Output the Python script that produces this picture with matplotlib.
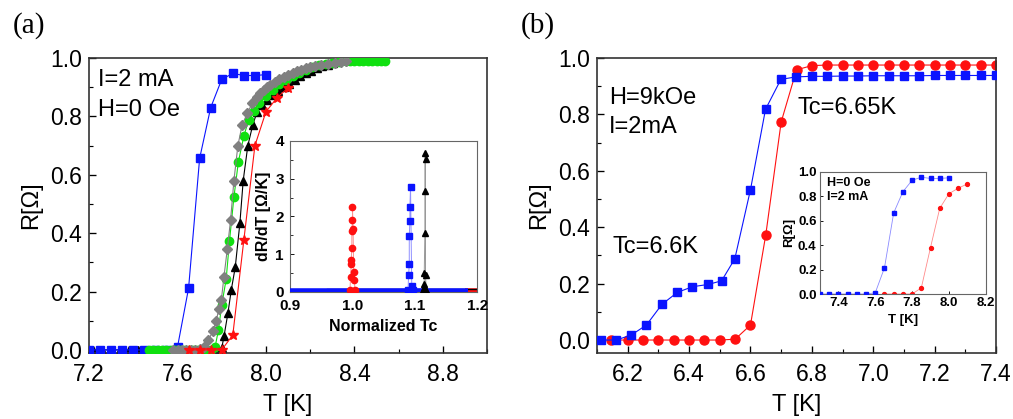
import matplotlib
matplotlib.use("Agg")
import matplotlib.pyplot as plt
from matplotlib.ticker import MultipleLocator

plt.rcParams['font.family'] = ['Liberation Sans', 'DejaVu Sans']

# ---- panel (a): R(T) at H=0, I=2 mA ----
blue_a_T = [7.20, 7.25, 7.30, 7.35, 7.40, 7.45, 7.50, 7.55, 7.60, 7.65, 7.70,
            7.75, 7.80, 7.85, 7.90, 7.95, 8.00]
blue_a_R = [0, 0, 0, 0, 0, 0, 0, 0, 0.01, 0.211, 0.656,
            0.83, 0.927, 0.947, 0.94, 0.94, 0.943]

black_a_T = [7.22, 7.26, 7.30, 7.34, 7.38, 7.42, 7.46, 7.50, 7.54, 7.58, 7.62,
             7.66, 7.70, 7.74, 7.78, 7.80, 7.81, 7.828, 7.843, 7.861, 7.882,
             7.897, 7.918, 7.94, 7.96, 7.98, 8.005, 8.03, 8.055, 8.08, 8.105,
             8.13, 8.155, 8.18, 8.205, 8.23, 8.255, 8.28, 8.305]
black_a_R = [0, 0, 0, 0, 0, 0, 0, 0, 0, 0, 0,
             0, 0, 0, 0, 0.006, 0.046, 0.126, 0.205, 0.283, 0.434,
             0.58, 0.70, 0.77, 0.816, 0.84, 0.856, 0.872, 0.887, 0.90, 0.912,
             0.925, 0.937, 0.947, 0.956, 0.964, 0.971, 0.977, 0.982]

green_a_T = [7.47, 7.49, 7.51, 7.53, 7.55, 7.57, 7.59, 7.61, 7.63, 7.65, 7.67,
             7.69, 7.71, 7.73, 7.75, 7.77, 7.785, 7.80, 7.82, 7.835, 7.855,
             7.875, 7.90, 7.922, 7.945, 7.97, 8.00, 8.03, 8.06, 8.09, 8.12,
             8.15, 8.18, 8.21, 8.24, 8.27, 8.30, 8.33, 8.36, 8.38, 8.40, 8.42,
             8.44, 8.46, 8.48, 8.50, 8.52, 8.54]
green_a_R = [0, 0, 0, 0, 0, 0, 0, 0, 0, 0, 0,
             0, 0, 0, 0, 0.01, 0.068, 0.154, 0.242, 0.373, 0.523,
             0.643, 0.733, 0.788, 0.818, 0.845, 0.87, 0.89, 0.91, 0.925, 0.94,
             0.95, 0.96, 0.968, 0.975, 0.98, 0.984, 0.987, 0.988, 0.988, 0.988,
             0.988, 0.988, 0.988, 0.988, 0.988, 0.988, 0.988]

gray_a_T = [7.58, 7.60, 7.62, 7.64, 7.66, 7.68, 7.70, 7.72, 7.74, 7.76, 7.775,
            7.787, 7.798, 7.81, 7.825, 7.84, 7.855, 7.873, 7.892, 7.915, 7.938,
            7.96, 7.975, 7.99, 8.005, 8.02, 8.04, 8.06, 8.08, 8.10, 8.12, 8.14,
            8.16, 8.18, 8.20, 8.22, 8.25, 8.28, 8.31, 8.34, 8.36]
gray_a_R = [0, 0, 0, 0, 0, 0, 0.002, 0.01, 0.035, 0.063, 0.10,
            0.14, 0.17, 0.25, 0.345, 0.445, 0.58, 0.70, 0.77, 0.81, 0.845,
            0.865, 0.879, 0.89, 0.90, 0.907, 0.917, 0.927, 0.936, 0.943, 0.95, 0.955,
            0.96, 0.965, 0.969, 0.973, 0.977, 0.981, 0.984, 0.987, 0.988]

red_a_T = [7.65, 7.70, 7.75, 7.80, 7.85, 7.90, 7.95, 8.00, 8.05, 8.10]
red_a_R = [0, 0, 0, 0, 0.051, 0.377, 0.70, 0.816, 0.864, 0.898]

# inset (a): dR/dT vs normalized Tc
red_pk_x = [0.996, 0.997, 0.998, 0.998, 0.999, 0.999, 1.0, 1.0, 1.001, 1.002, 1.003, 1.004]
red_pk_y = [0.05, 0.38, 0.74, 0.83, 1.16, 1.60, 1.91, 2.24, 1.66, 0.53, 0.32, 0.05]
blue_pk_x = [1.089, 1.090, 1.091, 1.091, 1.092, 1.092, 1.093, 1.095, 1.097]
blue_pk_y = [0.05, 0.45, 0.74, 1.48, 1.88, 2.24, 2.78, 0.15, 0.05]
black_pk_x = [1.113, 1.114, 1.115, 1.115, 1.116, 1.116, 1.116, 1.117, 1.117, 1.118]
black_pk_y = [0.05, 0.10, 0.20, 0.50, 1.57, 2.66, 3.68, 3.53, 0.44, 0.05]
base_blue_x, base_blue_y = [0.9, 1.185], [0.03, 0.03]
base_black_x, base_black_y = [0.96, 1.2], [0.07, 0.07]
base_red_x, base_red_y = [1.18, 1.2], [0.03, 0.03]

# ---- panel (b): H=9 kOe ----
blue_b_T = [6.112, 6.163, 6.212, 6.261, 6.312, 6.362, 6.411, 6.462, 6.506, 6.549,
            6.60, 6.649, 6.699, 6.748, 6.80, 6.85, 6.90, 6.95, 7.00, 7.05, 7.10,
            7.15, 7.20, 7.25, 7.30, 7.35, 7.40]
blue_b_R = [0.0, 0.0, 0.018, 0.053, 0.127, 0.169, 0.189, 0.197, 0.21, 0.288,
            0.533, 0.818, 0.924, 0.933, 0.935, 0.935, 0.936, 0.936, 0.937, 0.937, 0.937,
            0.937, 0.938, 0.938, 0.938, 0.938, 0.938]
red_b_T = [6.147, 6.20, 6.25, 6.30, 6.35, 6.40, 6.45, 6.50, 6.55, 6.60, 6.65,
           6.70, 6.75, 6.80, 6.85, 6.90, 6.95, 7.00, 7.05, 7.10, 7.15, 7.20,
           7.25, 7.30, 7.35, 7.40]
red_b_R = [0, 0, 0, 0, 0, 0, 0, 0, 0.003, 0.053, 0.374,
           0.773, 0.958, 0.973, 0.975, 0.975, 0.975, 0.975, 0.975, 0.975, 0.975, 0.975,
           0.975, 0.975, 0.975, 0.975]

# inset (b): H=0 Oe
blue_in_T = [7.30, 7.35, 7.40, 7.45, 7.50, 7.55, 7.60, 7.65, 7.70, 7.75, 7.80,
             7.85, 7.90, 7.95, 8.00]
blue_in_R = [0, 0, 0, 0, 0, 0, 0.01, 0.214, 0.663, 0.836, 0.93,
             0.955, 0.945, 0.945, 0.95]
red_in_T = [7.65, 7.70, 7.75, 7.80, 7.85, 7.90, 7.95, 8.00, 8.05, 8.10]
red_in_R = [0, 0, 0, 0, 0.05, 0.38, 0.70, 0.82, 0.865, 0.90]

BLUE = '#0a14ff'
RED = '#ff1010'
GREEN = '#10e010'
GRAY = '#808080'


def style_axes(ax, size, bold=False, major=5, minor=3, lw=1.2, color='#333333'):
    for s in ax.spines.values():
        s.set_linewidth(lw)
        s.set_color(color)
    ax.tick_params(which='both', direction='in', top=False, right=False)
    ax.tick_params(which='major', length=major, width=lw * 0.8, labelsize=size)
    ax.tick_params(which='minor', length=minor, width=lw * 0.7)
    if bold:
        for lab in ax.get_xticklabels() + ax.get_yticklabels():
            lab.set_fontweight('bold')


fig = plt.figure(figsize=(10.13, 4.19), dpi=100)

# ---------- (a) ----------
ax = fig.add_axes([0.0879, 0.158, 0.393, 0.7036])
ax.plot(black_a_T, black_a_R, '-^', color='black', lw=0.8, ms=6, zorder=2)
ax.plot(blue_a_T, blue_a_R, '-s', color=BLUE, lw=0.8, ms=5.5, zorder=3)
ax.plot(green_a_T, green_a_R, '-o', color=GREEN, lw=0.8, ms=6, zorder=4)
ax.plot(gray_a_T, gray_a_R, '-D', color=GRAY, lw=0.8, ms=4.8, zorder=5)
ax.plot(red_a_T, red_a_R, '-*', color=RED, lw=0.8, ms=7.5, zorder=6)
ax.set_xlim(7.2, 9.0)
ax.set_ylim(-0.01, 1.0)
ax.set_xticks([7.2, 7.6, 8.0, 8.4, 8.8])
ax.set_xticklabels(['7.2', '7.6', '8.0', '8.4', '8.8'])
ax.set_yticks([0.0, 0.2, 0.4, 0.6, 0.8, 1.0])
ax.set_yticklabels(['0.0', '0.2', '0.4', '0.6', '0.8', '1.0'])
ax.xaxis.set_minor_locator(MultipleLocator(0.2))
ax.yaxis.set_minor_locator(MultipleLocator(0.1))
style_axes(ax, 16.5)
ax.tick_params(axis='x', pad=7)
ax.tick_params(axis='y', pad=5)
ax.set_xlabel('T [K]', fontsize=17, labelpad=6)
ax.set_ylabel('R[Ω]', fontsize=17, labelpad=6)
ax.text(0.022, 0.925, 'I=2 mA', transform=ax.transAxes, fontsize=17, va='center')
ax.text(0.022, 0.825, 'H=0 Oe', transform=ax.transAxes, fontsize=17, va='center')

# inset (a)
ia = fig.add_axes([0.2863, 0.3038, 0.1849, 0.3597])
ia.plot(base_red_x, base_red_y, '-', color=RED, lw=4, solid_capstyle='butt', zorder=1)
ia.plot(base_black_x, base_black_y, '-', color='black', lw=1, zorder=2)
ia.plot(base_blue_x, base_blue_y, '-', color=BLUE, lw=4, solid_capstyle='butt', zorder=3)
ia.plot(red_pk_x, red_pk_y, '-o', color='#ff9090', mfc=RED, mec=RED, lw=0.7, ms=4.5, zorder=4)
ia.plot(blue_pk_x, blue_pk_y, '-s', color='#9090ff', mfc=BLUE, mec=BLUE, lw=0.7, ms=4, zorder=4)
ia.plot(black_pk_x, black_pk_y, '-^', color='#999999', mfc='black', mec='black', lw=0.7, ms=4.5, zorder=4)
ia.set_xlim(0.9, 1.2)
ia.set_ylim(0, 4)
ia.set_xticks([0.9, 1.0, 1.1, 1.2])
ia.set_xticklabels(['0.9', '1.0', '1.1', '1.2'])
ia.set_yticks([0, 1, 2, 3, 4])
ia.xaxis.set_minor_locator(MultipleLocator(0.05))
ia.yaxis.set_minor_locator(MultipleLocator(0.5))
style_axes(ia, 11, bold=True, major=3, minor=2, lw=0.8, color='#666666')
ia.tick_params(axis='x', pad=5.5)
ia.tick_params(axis='y', pad=4.5)
ia.set_xlabel('Normalized Tc', fontsize=11.5, fontweight='bold', labelpad=4)
ia.set_ylabel('dR/dT [Ω/K]', fontsize=11.5, fontweight='bold', labelpad=3)

# ---------- (b) ----------
bx = fig.add_axes([0.5893, 0.1575, 0.394, 0.7041])
bx.plot(blue_b_T, blue_b_R, '-s', color=BLUE, lw=0.8, ms=5.5, zorder=3)
bx.plot(red_b_T, red_b_R, '-o', color=RED, lw=0.8, ms=6.5, zorder=2)
bx.set_xlim(6.1, 7.4)
bx.set_ylim(-0.046, 1.0)
bx.set_xticks([6.2, 6.4, 6.6, 6.8, 7.0, 7.2, 7.4])
bx.set_xticklabels(['6.2', '6.4', '6.6', '6.8', '7.0', '7.2', '7.4'])
bx.set_yticks([0.0, 0.2, 0.4, 0.6, 0.8, 1.0])
bx.set_yticklabels(['0.0', '0.2', '0.4', '0.6', '0.8', '1.0'])
bx.xaxis.set_minor_locator(MultipleLocator(0.1))
bx.yaxis.set_minor_locator(MultipleLocator(0.1))
style_axes(bx, 16.5)
bx.tick_params(axis='x', pad=7)
bx.tick_params(axis='y', pad=5)
bx.set_xlabel('T [K]', fontsize=17, labelpad=6)
bx.set_ylabel('R[Ω]', fontsize=17, labelpad=6)
bx.text(0.03, 0.865, 'H=9kOe', transform=bx.transAxes, fontsize=17, va='center')
bx.text(0.03, 0.765, 'I=2mA', transform=bx.transAxes, fontsize=17, va='center')
bx.text(0.04, 0.36, 'Tc=6.6K', transform=bx.transAxes, fontsize=17, va='center')
bx.text(0.503, 0.83, 'Tc=6.65K', transform=bx.transAxes, fontsize=17, va='center')

# inset (b)
ib = fig.add_axes([0.8095, 0.2983, 0.1636, 0.2919])
ib.plot(blue_in_T, blue_in_R, '-s', color='#8a8aff', mfc=BLUE, mec=BLUE, lw=0.6, ms=2.5, zorder=3)
ib.plot(red_in_T, red_in_R, '-o', color='#ff8a8a', mfc=RED, mec=RED, lw=0.6, ms=2.8, zorder=2)
ib.set_xlim(7.3, 8.2)
ib.set_ylim(0, 1.0)
ib.set_xticks([7.4, 7.6, 7.8, 8.0, 8.2])
ib.set_xticklabels(['7.4', '7.6', '7.8', '8.0', '8.2'])
ib.set_yticks([0.0, 0.2, 0.4, 0.6, 0.8, 1.0])
ib.set_yticklabels(['0.0', '0.2', '0.4', '0.6', '0.8', '1.0'])
style_axes(ib, 9.5, bold=True, major=2, minor=1.5, lw=0.8, color='#666666')
ib.tick_params(pad=2.5)
ib.set_xlabel('T [K]', fontsize=9.5, fontweight='bold', labelpad=3)
ib.set_ylabel('R[Ω]', fontsize=9.5, fontweight='bold', labelpad=2)
ib.text(0.04, 0.91, 'H=0 Oe', transform=ib.transAxes, fontsize=9, fontweight='bold', va='center')
ib.text(0.04, 0.79, 'I=2 mA', transform=ib.transAxes, fontsize=9, fontweight='bold', va='center')

fig.text(0.0125, 0.938, '(a)', fontsize=21, family='Liberation Serif', va='center')
fig.text(0.514, 0.938, '(b)', fontsize=21, family='Liberation Serif', va='center')

fig.savefig('out.png', dpi=100)
